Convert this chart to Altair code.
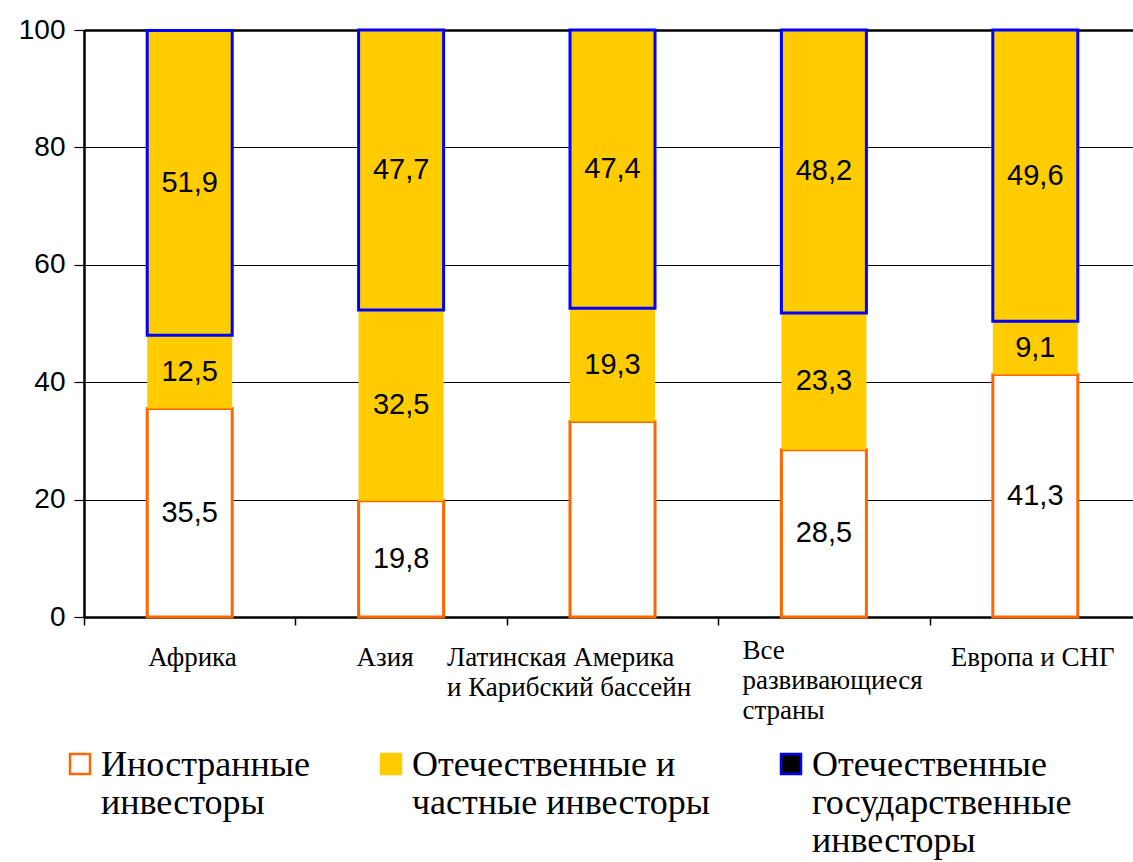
import json

import altair as alt
import pandas as pd

# Regions (line breaks are kept in the axis labels)
regions = [
    "Африка",
    "Азия",
    "Латинская Америка\nи Карибский бассейн",
    "Все\nразвивающиеся\nстраны",
    "Европа и СНГ",
]

# Investor groups, bottom to top of each bar
series = [
    "Иностранные\nинвесторы",
    "Отечественные и\nчастные инвесторы",
    "Отечественные\nгосударственные\nинвесторы",
]

# Shares, %
foreign = [35.5, 19.8, 33.3, 28.5, 41.3]
domestic_private = [12.5, 32.5, 19.3, 23.3, 9.1]
domestic_state = [51.9, 47.7, 47.4, 48.2, 49.6]

# Whether the value is printed inside the segment
foreign_labeled = [True, True, False, True, True]
private_labeled = [True, True, True, True, True]
state_labeled = [True, True, True, True, True]

values = [foreign, domestic_private, domestic_state]
labeled = [foreign_labeled, private_labeled, state_labeled]

rows = []
for i, region in enumerate(regions):
    for k, name in enumerate(series):
        rows.append(
            {
                "region": region,
                "series": name,
                "k": k,
                "value": values[k][i],
                "shown": labeled[k][i],
            }
        )
df = pd.DataFrame(rows)

SERIF = "Liberation Serif"
SANS = "Liberation Sans"

regions_js = json.dumps(regions, ensure_ascii=False)

# left-aligned category labels, shifted from the band centre
label_shift = [-42, -45, -166, -82, -85]
label_pad = [19, 19, 19, 12, 19]
shift_expr = "{}[indexof({}, datum.value)]".format(json.dumps(label_shift), regions_js)
pad_expr = "{}[indexof({}, datum.value)]".format(json.dumps(label_pad), regions_js)

x_axis = alt.Axis(
    title=None,
    tickBand="extent",
    tickSize=8,
    tickColor="black",
    tickWidth=1.5,
    domainColor="black",
    domainWidth=2.5,
    labelFont=SERIF,
    labelFontSize=27,
    labelColor="black",
    labelAlign="left",
    labelBaseline="top",
    labelPadding=alt.ExprRef(pad_expr),
    labelLineHeight=30,
    labelOffset=alt.ExprRef(shift_expr),
    labelExpr="split(datum.label, '\\n')",
    labelOverlap=False,
    labelFlush=False,
    labelBound=False,
    labelLimit=400,
    labelAngle=0,
)

y_axis = alt.Axis(
    title=None,
    values=[0, 20, 40, 60, 80, 100],
    tickSize=10,
    tickColor="black",
    tickWidth=1.2,
    domainColor="black",
    domainWidth=2.5,
    grid=True,
    gridColor="black",
    gridWidth=alt.ExprRef("datum.value == 100 ? 2.5 : 1.2"),
    labelFont=SANS,
    labelFontSize=28,
    labelColor="black",
    labelPadding=9,
)

x_enc = alt.X(
    "region:N",
    sort=regions,
    scale=alt.Scale(range=[0, 1057], paddingInner=0, paddingOuter=0),
    axis=x_axis,
)
y_scale = alt.Scale(domain=[0, 100], nice=False)

base = alt.Chart(df).transform_stack(
    stack="value",
    groupby=["region"],
    as_=["y0", "y1"],
    sort=[alt.SortField("k", order="ascending")],
)

bars = base.mark_bar(width=85).encode(
    x=x_enc,
    y=alt.Y("y0:Q", scale=y_scale, axis=y_axis),
    y2="y1:Q",
    fill=alt.Fill(
        "series:N",
        scale=alt.Scale(domain=series, range=["#FFFFFF", "#FFCC00", "#FFCC00"]),
        legend=None,
    ),
    stroke=alt.Stroke(
        "series:N",
        scale=alt.Scale(domain=series, range=["#FF6600", "#FFCC00", "#0000FF"]),
        legend=None,
    ),
    strokeWidth=alt.condition("datum.k == 1", alt.value(0), alt.value(3)),
)

texts = (
    base.transform_filter("datum.shown")
    .transform_calculate(
        mid="(datum.y0 + datum.y1) / 2",
        txt="replace(format(datum.value, '.1f'), '.', ',')",
    )
    .mark_text(font=SANS, fontSize=29, color="black")
    .encode(
        x=alt.X("region:N", sort=regions),
        y=alt.Y("mid:Q", scale=y_scale),
        text="txt:N",
    )
)

# square swatch drawn level with the first text line of each entry
swatch = "M-1,0.6H1V2.6H-1Z"

legend = alt.Legend(
    title=None,
    orient="none",
    legendX=-22,
    legendY=700,
    direction="horizontal",
    columns=3,
    columnPadding=63,
    symbolType=swatch,
    symbolSize=400,
    symbolStrokeWidth=2.5,
    symbolOpacity=1,
    labelFont=SERIF,
    labelFontSize=36,
    labelColor="black",
    labelLimit=600,
    labelOffset=3,
    labelBaseline="top",
    # every entry gets three text lines so the entries share one top edge
    labelExpr="slice(split(datum.label + '\\n\\n', '\\n'), 0, 3)",
)

# swatches for the legend only (no rows reach the plot)
keys = (
    alt.Chart(df)
    .transform_filter("false")
    .mark_square(filled=True, strokeWidth=2.5, opacity=1)
    .encode(
        fill=alt.Fill(
            "series:N",
            scale=alt.Scale(domain=series, range=["#FFFFFF", "#FFCC00", "#000000"]),
            legend=legend,
        ),
        stroke=alt.Stroke(
            "series:N",
            scale=alt.Scale(domain=series, range=["#FF6600", "#FFCC00", "#0000FF"]),
            legend=legend,
        ),
    )
)

chart = (
    alt.layer(bars, texts, keys)
    .resolve_scale(fill="independent", stroke="independent")
    .properties(
        width=1049,
        height=587,
        autosize=alt.AutoSizeParams(type="none"),
        padding={"left": 84, "top": 30, "right": 0, "bottom": 245},
        background="white",
    )
    .configure_view(stroke=None)
)

chart.save("out.html", embed_options={"renderer": "svg", "actions": False})
